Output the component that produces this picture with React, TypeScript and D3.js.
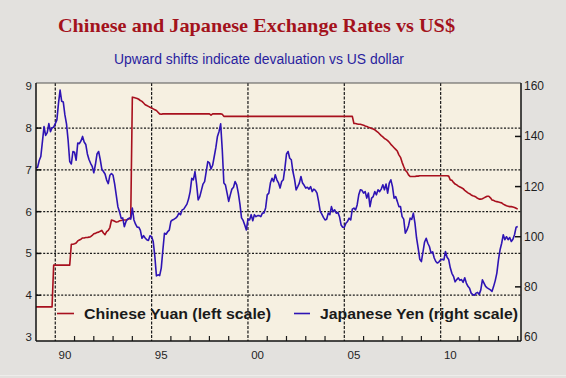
import React from 'react';
import * as d3 from 'd3';

// Monthly values, Jan 1989 .. Jan 2014
const START_YEAR = 1989;

// Japanese yen per US$ (right scale)
const yenPerDollar: number[] = [
  // 1989
  127.4, 127.7, 130.4, 132.0, 137.9, 143.9, 140.4, 141.5, 145.1, 141.9, 143.5, 143.7,
  // 1990
  145.1, 146.6, 153.2, 158.5, 154.0, 153.7, 148.6, 145.0, 138.5, 130.0, 129.0, 134.0,
  // 1991
  133.7, 130.5, 137.4, 137.1, 138.2, 140.0, 137.8, 136.8, 133.0, 130.8, 129.3, 128.1,
  // 1992
  125.5, 128.8, 133.0, 134.0, 130.8, 127.0, 126.0, 125.0, 122.6, 121.2, 124.5, 125.2,
  // 1993
  124.5, 121.0, 116.5, 112.0, 110.0, 107.4, 107.5, 104.0, 106.0, 107.0, 107.4, 107.0,
  // 1994
  111.4, 106.7, 105.0, 103.8, 103.8, 102.5, 99.4, 100.4, 99.5, 98.8, 98.5, 100.4,
  // 1995
  100.0, 98.1, 92.2, 84.4, 84.8, 84.5, 87.5, 94.6, 101.4, 101.0, 102.0, 102.6,
  // 1996
  106.1, 106.7, 107.0, 107.4, 108.1, 109.4, 108.8, 110.7, 111.0, 112.0, 113.0, 115.0,
  // 1997
  118.0, 123.3, 122.7, 126.0, 121.0, 114.7, 116.0, 118.5, 121.0, 122.0, 126.0, 130.0,
  // 1998
  129.5, 127.0, 128.5, 132.0, 135.5, 140.0, 142.0, 145.0, 134.7, 121.4, 120.6, 117.4,
  // 1999
  114.1, 116.7, 119.0, 119.7, 122.0, 120.7, 117.4, 113.0, 107.5, 106.5, 104.7, 102.7,
  // 2000
  107.0, 106.7, 108.8, 106.4, 108.8, 108.0, 108.4, 108.4, 108.0, 109.4, 109.5, 111.5,
  // 2001
  116.7, 117.4, 121.5, 123.3, 122.0, 124.7, 122.7, 121.5, 119.4, 122.0, 122.7, 127.4,
  // 2002
  133.0, 134.0, 131.3, 130.7, 126.0, 123.0, 118.7, 120.0, 121.4, 124.0, 121.4, 120.5,
  // 2003
  119.4, 119.7, 119.0, 120.0, 118.0, 119.0, 118.5, 117.4, 114.1, 110.1, 109.0, 107.7,
  // 2004
  106.7, 107.0, 109.4, 108.8, 112.0, 110.0, 110.7, 109.4, 109.7, 108.0, 104.7, 103.8,
  // 2005
  103.8, 105.4, 106.1, 107.4, 106.7, 111.0, 111.4, 110.7, 112.7, 116.7, 118.7, 118.5,
  // 2006
  117.4, 118.0, 115.4, 117.4, 112.0, 115.4, 116.0, 118.0, 116.7, 118.7, 118.0, 119.0,
  // 2007
  120.7, 118.7, 121.0, 117.4, 121.4, 122.7, 120.0, 115.4, 116.0, 114.1, 112.0, 112.0,
  // 2008
  108.0, 107.0, 101.4, 102.6, 104.4, 107.4, 106.9, 109.4, 105.4, 99.5, 95.5, 91.0,
  // 2009
  90.1, 94.0, 97.9, 99.4, 97.4, 96.1, 93.5, 94.0, 91.5, 90.1, 89.5, 90.0,
  // 2010
  90.8, 91.0, 90.7, 94.1, 91.8, 90.9, 87.6, 85.4, 84.2, 82.0, 82.9, 83.6,
  // 2011
  82.6, 82.9, 81.8, 83.6, 81.5, 80.2, 79.4, 77.5, 76.9, 76.7, 77.5, 77.8,
  // 2012
  77.0, 78.8, 82.8, 81.5, 80.2, 79.6, 79.2, 78.8, 78.2, 80.2, 82.5, 85.5,
  // 2013
  90.8, 94.8, 97.4, 100.8, 98.8, 100.0, 98.8, 99.7, 98.1, 99.0, 100.8, 103.8,
  // 2014
  104.1,
];

// Chinese yuan per US$ (left scale)
const yuanPerDollar: number[] = [
  // 1989
  3.72, 3.72, 3.72, 3.72, 3.72, 3.72, 3.72, 3.72, 3.72, 3.72, 3.72, 4.72,
  // 1990
  4.72, 4.72, 4.72, 4.72, 4.72, 4.72, 4.72, 4.72, 4.72, 4.72, 5.22, 5.22,
  // 1991
  5.23, 5.25, 5.30, 5.32, 5.34, 5.37, 5.37, 5.38, 5.38, 5.39, 5.40, 5.43,
  // 1992
  5.47, 5.48, 5.50, 5.51, 5.53, 5.55, 5.49, 5.45, 5.52, 5.55, 5.62, 5.80,
  // 1993
  5.79, 5.77, 5.75, 5.76, 5.78, 5.79, 5.80, 5.80, 5.80, 5.81, 5.83, 5.87,
  // 1994
  8.74, 8.73, 8.72, 8.71, 8.69, 8.66, 8.64, 8.60, 8.56, 8.54, 8.52, 8.50,
  // 1995
  8.48, 8.46, 8.44, 8.42, 8.38, 8.34, 8.33, 8.34, 8.34, 8.34, 8.34, 8.34,
  // 1996
  8.34, 8.34, 8.34, 8.34, 8.34, 8.34, 8.34, 8.34, 8.34, 8.34, 8.34, 8.34,
  // 1997
  8.34, 8.34, 8.34, 8.34, 8.34, 8.34, 8.34, 8.34, 8.34, 8.34, 8.34, 8.34,
  // 1998
  8.34, 8.31, 8.34, 8.34, 8.34, 8.34, 8.34, 8.34, 8.33, 8.28, 8.28, 8.28,
  // 1999
  8.28, 8.28, 8.28, 8.28, 8.28, 8.28, 8.28, 8.28, 8.28, 8.28, 8.28, 8.28,
  // 2000
  8.28, 8.28, 8.28, 8.28, 8.28, 8.28, 8.28, 8.28, 8.28, 8.28, 8.28, 8.28,
  // 2001
  8.28, 8.28, 8.28, 8.28, 8.28, 8.28, 8.28, 8.28, 8.28, 8.28, 8.28, 8.28,
  // 2002
  8.28, 8.28, 8.28, 8.28, 8.28, 8.28, 8.28, 8.28, 8.28, 8.28, 8.28, 8.28,
  // 2003
  8.28, 8.28, 8.28, 8.28, 8.28, 8.28, 8.28, 8.28, 8.28, 8.28, 8.28, 8.28,
  // 2004
  8.28, 8.28, 8.28, 8.28, 8.28, 8.28, 8.28, 8.28, 8.28, 8.28, 8.28, 8.28,
  // 2005
  8.28, 8.28, 8.28, 8.28, 8.28, 8.28, 8.11, 8.11, 8.10, 8.09, 8.09, 8.08,
  // 2006
  8.07, 8.05, 8.04, 8.02, 8.01, 7.99, 7.98, 7.96, 7.93, 7.90, 7.86, 7.82,
  // 2007
  7.79, 7.75, 7.73, 7.70, 7.66, 7.61, 7.57, 7.53, 7.49, 7.45, 7.36, 7.30,
  // 2008
  7.18, 7.08, 6.99, 6.95, 6.88, 6.84, 6.84, 6.84, 6.84, 6.85, 6.85, 6.86,
  // 2009
  6.86, 6.86, 6.86, 6.86, 6.86, 6.86, 6.86, 6.86, 6.86, 6.86, 6.86, 6.86,
  // 2010
  6.86, 6.86, 6.86, 6.86, 6.86, 6.85, 6.76, 6.75, 6.70, 6.66, 6.64, 6.61,
  // 2011
  6.59, 6.57, 6.55, 6.51, 6.48, 6.45, 6.43, 6.40, 6.38, 6.37, 6.35, 6.32,
  // 2012
  6.30, 6.30, 6.31, 6.33, 6.35, 6.37, 6.37, 6.33, 6.28, 6.27, 6.25, 6.24,
  // 2013
  6.23, 6.22, 6.21, 6.18, 6.16, 6.14, 6.13, 6.12, 6.12, 6.11, 6.10, 6.08,
  // 2014
  6.06,
];

const leftTicks = [3, 4, 5, 6, 7, 8, 9];
const leftGrid = [4, 5, 6, 7, 8];
const rightTicks = [60, 80, 100, 120, 140, 160];
const labelYears = [1990, 1995, 2000, 2005, 2010];
const labelTexts = ['90', '95', '00', '05', '10'];
const minorYears = d3.range(1991, 2015).filter((y) => y % 5 !== 0);

const TITLE = 'Chinese and Japanese Exchange Rates vs US$';
const SUBTITLE = 'Upward shifts indicate devaluation vs US dollar';
const LEGEND_YUAN = 'Chinese Yuan (left scale)';
const LEGEND_YEN = 'Japanese Yen (right scale)';

const W = 566;
const H = 378;
const PL = 36, PR = 521, PT = 83, PB = 341;

const RED = '#A8101E';
const BLUE = '#2E14B4';
const SANS = '"Liberation Sans", Arial, sans-serif';

export default function App() {
  const x = d3.scaleLinear().domain([1989, 2014.17]).range([PL, PR]);
  const yL = d3.scaleLinear().domain([3, 9]).range([337, 86.3]);
  const yR = d3.scaleLinear().domain([60, 160]).range([337, 86.3]);

  const t = (i: number) => START_YEAR + i / 12;
  const yenLine = d3
    .line<number>()
    .x((_, i) => x(t(i)))
    .y((d) => yR(d));
  const yuanLine = d3
    .line<number>()
    .x((_, i) => x(t(i)))
    .y((d) => yL(d));

  return (
    <svg
      width={W}
      height={H}
      style={{ position: 'absolute', left: 0, top: 0, display: 'block' }}
    >
      <rect x={0} y={0} width={W} height={H} fill="#E3E1DE" />
      <line x1={0} x2={W} y1={375.5} y2={375.5} stroke="#EEEDEB" strokeWidth={1} />
      <text
        x={256.5}
        y={32}
        textAnchor="middle"
        fontFamily='"Liberation Serif", "Times New Roman", serif'
        fontWeight="bold"
        fontSize={19}
        textLength={397}
        lengthAdjust="spacingAndGlyphs"
        fill="#A3121C"
      >
        {TITLE}
      </text>
      <text
        x={259}
        y={64}
        textAnchor="middle"
        fontFamily={SANS}
        fontSize={14}
        textLength={290}
        lengthAdjust="spacingAndGlyphs"
        fill="#2A1E9E"
      >
        {SUBTITLE}
      </text>

      <rect x={PL} y={PT} width={PR - PL} height={PB - PT} fill="#F6F0E1" />

      {/* horizontal grid */}
      {leftGrid.map((v) => (
        <line
          key={'h' + v}
          x1={PL}
          x2={PR}
          y1={yL(v)}
          y2={yL(v)}
          stroke="#1a1a1a"
          strokeWidth={1.2}
          strokeDasharray="2,1.6"
        />
      ))}
      {/* vertical grid */}
      {labelYears.map((yr) => (
        <line
          key={'v' + yr}
          x1={x(yr)}
          x2={x(yr)}
          y1={PT}
          y2={PB}
          stroke="#1a1a1a"
          strokeWidth={1.2}
          strokeDasharray="3,1.5"
        />
      ))}

      {/* minor ticks bottom */}
      {minorYears.map((yr) => (
        <line
          key={'m' + yr}
          x1={x(yr)}
          x2={x(yr)}
          y1={PB}
          y2={PB - 5}
          stroke="#1a1a1a"
          strokeWidth={1.2}
        />
      ))}
      {/* left ticks */}
      {leftGrid.map((v) => (
        <line key={'lt' + v} x1={PL} x2={PL + 5} y1={yL(v)} y2={yL(v)} stroke="#111" strokeWidth={1.5} />
      ))}
      {/* right ticks */}
      {rightTicks.slice(1, -1).map((v) => (
        <line key={'rt' + v} x1={PR - 6} x2={PR} y1={yR(v)} y2={yR(v)} stroke="#111" strokeWidth={1.5} />
      ))}

      {/* series */}
      <path d={yuanLine(yuanPerDollar) || ''} fill="none" stroke={RED} strokeWidth={1.6} strokeLinejoin="round" />
      <path d={yenLine(yenPerDollar) || ''} fill="none" stroke={BLUE} strokeWidth={1.6} strokeLinejoin="round" />

      {/* frame */}
      <line x1={PL} x2={PR} y1={PT} y2={PT} stroke="#555" strokeWidth={1} />
      <line x1={PL} x2={PL} y1={PT} y2={PB} stroke="#111" strokeWidth={1.5} />
      <line x1={PR} x2={PR} y1={PT} y2={PB} stroke="#111" strokeWidth={1.5} />
      <line x1={PL} x2={PR} y1={PB} y2={PB} stroke="#111" strokeWidth={1.5} />

      {/* legend */}
      <line x1={57} x2={74} y1={313.5} y2={313.5} stroke={RED} strokeWidth={1.6} />
      <text
        x={84}
        y={319}
        fontFamily={SANS}
        fontWeight="bold"
        fontSize={14.5}
        textLength={187}
        lengthAdjust="spacingAndGlyphs"
        fill="#1a1a1a"
      >
        {LEGEND_YUAN}
      </text>
      <line x1={294} x2={310} y1={313.5} y2={313.5} stroke={BLUE} strokeWidth={1.6} />
      <text
        x={320}
        y={319}
        fontFamily={SANS}
        fontWeight="bold"
        fontSize={14.5}
        textLength={198}
        lengthAdjust="spacingAndGlyphs"
        fill="#1a1a1a"
      >
        {LEGEND_YEN}
      </text>

      {/* left axis labels */}
      {leftTicks.map((v) => (
        <text
          key={'ll' + v}
          x={32}
          y={yL(v) + 4}
          textAnchor="end"
          fontFamily={SANS}
          fontSize={11.5}
          fill="#1f1f1f"
        >
          {v}
        </text>
      ))}
      {/* right axis labels */}
      {rightTicks.map((v) => (
        <text
          key={'rl' + v}
          x={524}
          y={yR(v) + 4}
          textAnchor="start"
          fontFamily={SANS}
          fontSize={12}
          fill="#1f1f1f"
        >
          {v}
        </text>
      ))}
      {/* bottom labels */}
      {labelYears.map((yr, i) => (
        <text
          key={'bl' + yr}
          x={x(yr + 0.5)}
          y={359}
          textAnchor="middle"
          fontFamily={SANS}
          fontSize={11.5}
          fill="#1f1f1f"
        >
          {labelTexts[i]}
        </text>
      ))}
    </svg>
  );
}
